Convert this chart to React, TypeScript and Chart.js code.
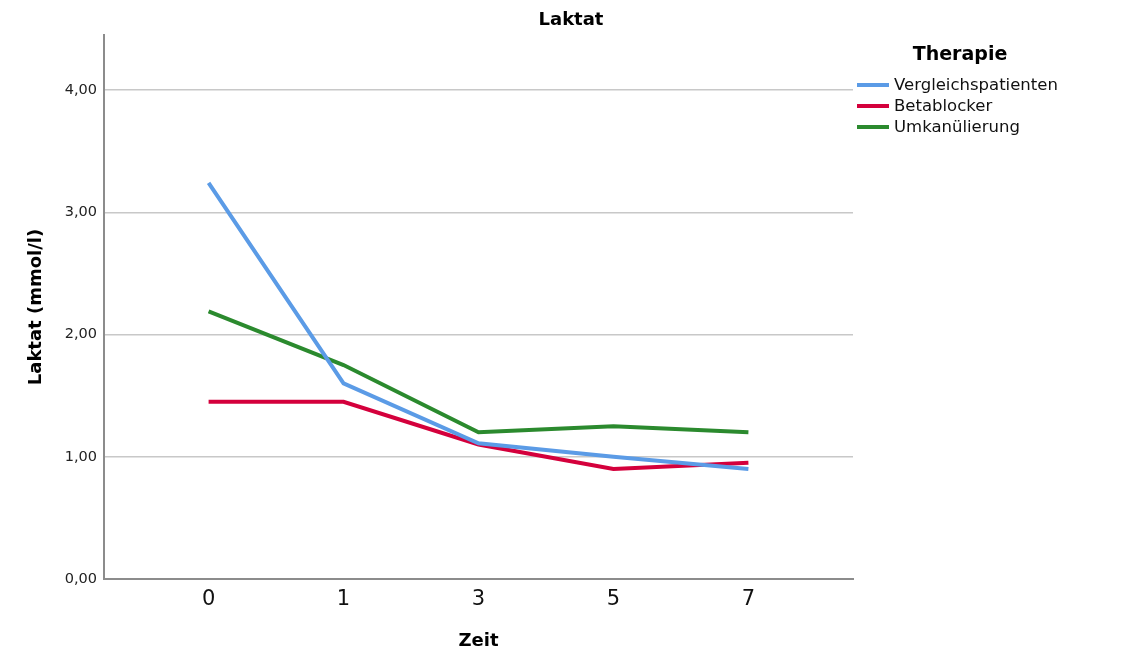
import React, { useEffect, useRef } from "react";
import { Chart, registerables } from "chart.js";

Chart.register(...registerables);

const chartTitle = "Laktat";
const legendTitle = "Therapie";
const xAxisTitle = "Zeit";
const yAxisTitle = "Laktat (mmol/l)";
const timeLabels = ["0", "1", "3", "5", "7"];
const yTickValues = [0, 1, 2, 3, 4];
const seriesNames = ["Vergleichspatienten", "Betablocker", "Umkanülierung"];
const seriesColors = ["#5b9be6", "#d4003c", "#2b8a2e"];
const vergleichValues = [3.24, 1.6, 1.11, 1.0, 0.9];
const betablockerValues = [1.45, 1.45, 1.1, 0.9, 0.95];
const umkanValues = [2.19, 1.75, 1.2, 1.25, 1.2];
const yMin = 0;
const yMax = 4.45;
const xMin = -0.775;
const xMax = 4.775;

const FONT = "'DejaVu Sans', sans-serif";

const overlayPlugin = {
  id: "overlay",
  afterDraw(chart: any) {
    const ctx = chart.ctx as CanvasRenderingContext2D;
    ctx.save();
    // Title
    ctx.fillStyle = "#000";
    ctx.font = `bold 18px ${FONT}`;
    ctx.textAlign = "center";
    ctx.textBaseline = "middle";
    ctx.fillText(chartTitle, 571, 20);
    // Legend title
    ctx.font = `bold 19px ${FONT}`;
    ctx.fillText(legendTitle, 960, 55);
    // Legend items
    ctx.textAlign = "left";
    ctx.font = `16.5px ${FONT}`;
    chart.data.datasets.forEach((ds: any, i: number) => {
      const y = 85 + i * 21;
      ctx.strokeStyle = ds.borderColor;
      ctx.lineWidth = 4;
      ctx.beginPath();
      ctx.moveTo(857, y);
      ctx.lineTo(889, y);
      ctx.stroke();
      ctx.fillStyle = "#111";
      ctx.fillText(ds.label, 894, y + 1);
    });
    ctx.restore();
  },
};

export default function App() {
  const ref = useRef<HTMLCanvasElement | null>(null);
  useEffect(() => {
    if (!ref.current) return;
    const seriesValues = [vergleichValues, betablockerValues, umkanValues];
    const chart = new Chart(ref.current, {
      type: "line",
      data: {
        datasets: seriesValues.map((vals, i) => ({
          label: seriesNames[i],
          data: vals.map((v, j) => ({ x: j, y: v })),
          borderColor: seriesColors[i],
          backgroundColor: seriesColors[i],
          borderWidth: 4,
          pointRadius: 0,
          tension: 0,
          fill: false,
        })),
      },
      options: {
        animation: false,
        responsive: false,
        layout: { padding: { left: 0, top: 35, right: 278, bottom: 0 } },
        plugins: {
          legend: { display: false },
          title: { display: false },
          tooltip: { enabled: false },
        },
        scales: {
          x: {
            type: "linear",
            min: xMin,
            max: xMax,
            afterBuildTicks: (scale: any) => {
              scale.ticks = timeLabels.map((_, i) => ({ value: i }));
            },
            afterFit: (scale: any) => {
              scale.height = 85;
            },
            ticks: {
              padding: 8,
              color: "#111",
              font: { family: FONT, size: 21 },
              callback: (v: any) => timeLabels[Number(v)] ?? "",
            },
            grid: { color: "transparent", drawTicks: false },
            border: { display: true, color: "#8c8c8c", width: 2 },
            title: {
              display: true,
              text: xAxisTitle,
              color: "#000",
              font: { family: FONT, size: 18, weight: "bold" },
              padding: { top: 0, bottom: 12 },
            },
          },
          y: {
            type: "linear",
            min: yMin,
            max: yMax,
            afterBuildTicks: (scale: any) => {
              scale.ticks = yTickValues.map((v) => ({ value: v }));
            },
            afterFit: (scale: any) => {
              scale.width = 104;
            },
            ticks: {
              padding: 7,
              color: "#222",
              font: { family: FONT, size: 14.5 },
              callback: (v: any) => Number(v).toFixed(2).replace(".", ","),
            },
            grid: { color: "#c8c8c8", lineWidth: 1.5, drawTicks: false },
            border: { display: true, color: "#8c8c8c", width: 2 },
            title: {
              display: true,
              text: yAxisTitle,
              color: "#000",
              font: { family: FONT, size: 18, weight: "bold" },
              padding: { top: 26, bottom: 0 },
            },
          },
        },
      },
      plugins: [overlayPlugin],
    });
    return () => chart.destroy();
  }, []);
  return (
    <div style={{ position: "absolute", left: 0, top: 0, width: 1131, height: 664, background: "#fff" }}>
      <canvas ref={ref} width={1131} height={664} />
    </div>
  );
}
